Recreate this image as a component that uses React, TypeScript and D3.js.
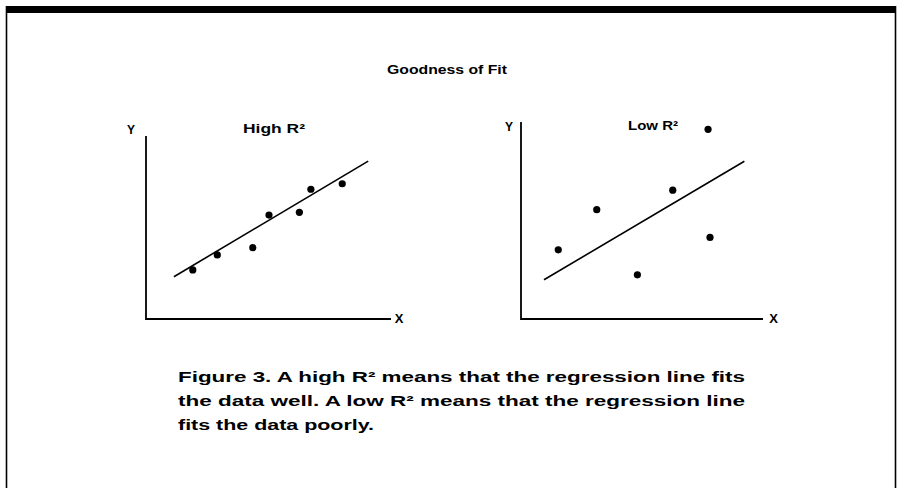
import * as d3 from "d3";

const W = 902;
const H = 488;
const FONT = "'Liberation Sans', Arial, Helvetica, sans-serif";

const chartTitle = "Goodness of Fit";
const panelTitles = ["High R²", "Low R²"];
const axisLabels = ["X", "Y"];

const highX = [1.91, 2.91, 4.36, 5.02, 6.26, 6.73, 8.01];
const highY = [2.68, 3.5, 3.9, 5.68, 5.83, 7.09, 7.39];
const lowX = [1.54, 3.13, 4.81, 6.27, 7.73, 7.81];
const lowY = [3.51, 5.55, 2.24, 6.54, 9.63, 4.14];

// regression line end points
const highFitX = [1.14, 9.07];
const highFitY = [2.31, 8.63];
const lowFitX = [0.95, 9.23];
const lowFitY = [1.99, 8.01];

const captionLines = [
  "Figure 3. A high R² means that the regression line fits",
  "the data well. A low R² means that the regression line",
  "fits the data poorly.",
];

type Panel = {
  title: string;
  xs: number[];
  ys: number[];
  fx: number[];
  fy: number[];
  left: number;
  right: number;
  top: number;
  bottom: number;
  titleX: number;
  titleY: number;
  titleLen: number;
  yLabX: number;
  yLabY: number;
  xLabX: number;
};

const panels: Panel[] = [
  {
    title: panelTitles[0],
    xs: highX,
    ys: highY,
    fx: highFitX,
    fy: highFitY,
    left: 146,
    right: 391,
    top: 136,
    bottom: 319,
    titleX: 243,
    titleY: 133,
    titleLen: 62,
    yLabX: 131,
    yLabY: 134,
    xLabX: 399,
  },
  {
    title: panelTitles[1],
    xs: lowX,
    ys: lowY,
    fx: lowFitX,
    fy: lowFitY,
    left: 521,
    right: 763,
    top: 122,
    bottom: 319,
    titleX: 628,
    titleY: 130,
    titleLen: 50,
    yLabX: 509,
    yLabY: 131,
    xLabX: 773.5,
  },
];

function Scatter({ p }: { p: Panel }) {
  const x = d3.scaleLinear().domain([0, 10]).range([p.left, p.right]);
  const y = d3.scaleLinear().domain([0, 10]).range([p.bottom, p.top]);
  const line = d3
    .line<number>()
    .x((d) => x(p.fx[d]))
    .y((d) => y(p.fy[d]));

  return (
    <g>
      <path
        d={`M${x(0)},${y(10)}V${y(0)}H${x(10)}`}
        fill="none"
        stroke="#000"
        strokeWidth={1.8}
      />
      <text
        x={p.yLabX}
        y={p.yLabY}
        fontSize={12}
        fontWeight="bold"
        fontFamily={FONT}
        textAnchor="middle"
      >
        {axisLabels[1]}
      </text>
      <text
        x={p.xLabX}
        y={y(0) + 4}
        fontSize={13}
        fontWeight="bold"
        fontFamily={FONT}
        textAnchor="middle"
      >
        {axisLabels[0]}
      </text>
      <text
        x={p.titleX}
        y={p.titleY}
        fontSize={12.5}
        fontWeight="bold"
        fontFamily={FONT}
        textLength={p.titleLen}
        lengthAdjust="spacingAndGlyphs"
      >
        {p.title}
      </text>
      <path
        d={line([0, 1]) ?? ""}
        fill="none"
        stroke="#000"
        strokeWidth={1.6}
      />
      {p.xs.map((v, i) => (
        <circle key={i} cx={x(v)} cy={y(p.ys[i])} r={3.6} fill="#000" />
      ))}
    </g>
  );
}

export default function App() {
  const lineY = d3
    .scaleLinear()
    .domain([0, 1])
    .range([381.5, 405.5]);

  return (
    <svg
      width={W}
      height={H}
      style={{ position: "absolute", left: 0, top: 0, background: "#fff" }}
    >
      <rect x={6} y={6} width={890} height={7} fill="#000" />
      <line x1={6.5} y1={6} x2={6.5} y2={H} stroke="#000" strokeWidth={1.6} />
      <line x1={895.5} y1={6} x2={895.5} y2={H} stroke="#000" strokeWidth={1.6} />

      <text
        x={387}
        y={74}
        fontSize={12.5}
        fontWeight="bold"
        fontFamily={FONT}
        textLength={120}
        lengthAdjust="spacingAndGlyphs"
      >
        {chartTitle}
      </text>

      {panels.map((p, i) => (
        <Scatter key={i} p={p} />
      ))}

      {captionLines.map((t, i) => (
        <text
          key={i}
          x={178}
          y={lineY(i)}
          fontSize={14}
          fontWeight="bold"
          fontFamily={FONT}
          textLength={i < 2 ? 567 : 196}
          lengthAdjust="spacingAndGlyphs"
        >
          {t}
        </text>
      ))}
    </svg>
  );
}
